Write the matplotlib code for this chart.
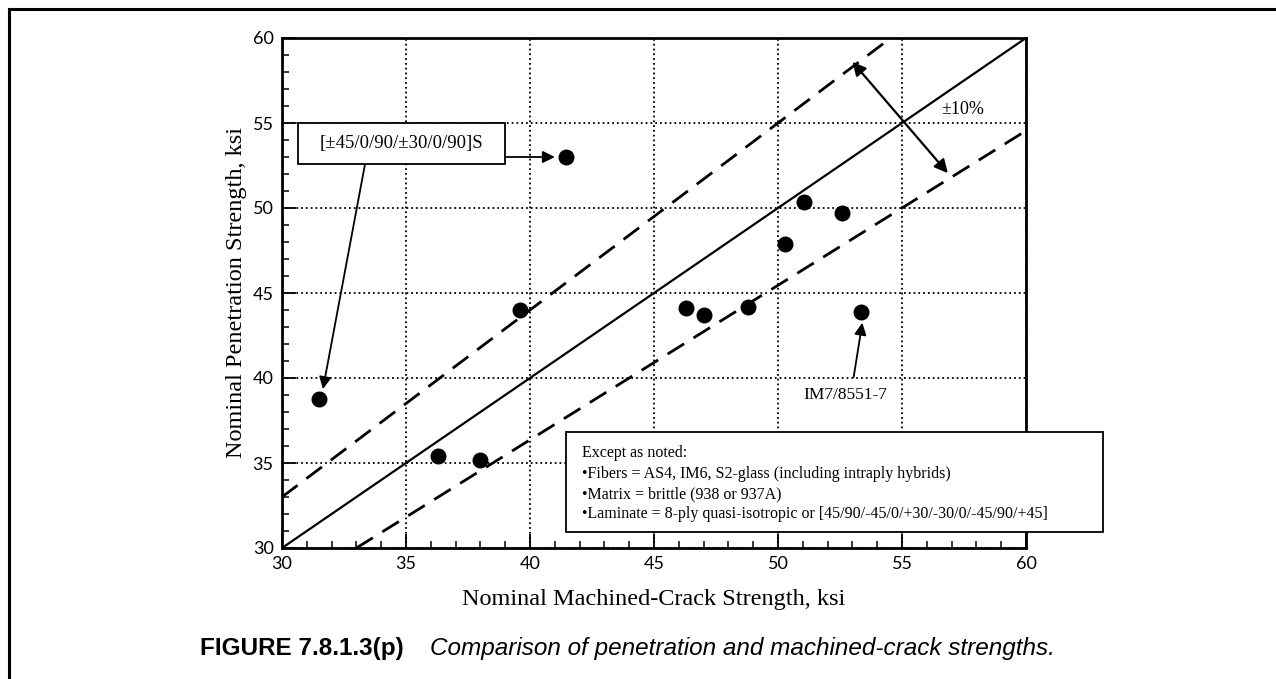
import matplotlib.pyplot as plt
from matplotlib.lines import Line2D
from matplotlib.patches import Rectangle

import numpy as np

# Данные
machined = [31.5, 41.45, 39.6, 36.3, 38.0, 46.3, 47.0, 48.8, 53.35, 51.05, 52.6, 50.3]
penetration = [38.75, 53.0, 44.0, 35.4, 35.2, 44.1, 43.7, 44.15, 43.9, 50.35, 49.7, 47.9]

band = 0.10
ticks = [30, 35, 40, 45, 50, 55, 60]

note_lines = ['Except as noted:',
              '\u2022Fibers = AS4, IM6, S2-glass (including intraply hybrids)',
              '\u2022Matrix = brittle (938 or 937A)',
              '\u2022Laminate = 8-ply quasi-isotropic or [45/90/-45/0/+30/-30/0/-45/90/+45]']

W, H = 1276, 679
serif = 'Liberation Serif'

fig = plt.figure(figsize=(W / 100, H / 100), dpi=100)
ax = fig.add_axes([282 / W, 1 - 548 / H, 744 / W, 510 / H])

# Линии равенства и коридор +-10%
x = np.array([30, 60])
ax.plot(x, x, color='k', lw=1.6, zorder=3)
xu = np.array([30, 60 / (1 + band)])
ax.plot(xu, xu * (1 + band), color='k', lw=2, dashes=(7, 4), zorder=3)
xl = np.array([30 * (1 + band), 60])
ax.plot(xl, xl / (1 + band), color='k', lw=2, dashes=(7, 4), zorder=3)

ax.scatter(machined, penetration, s=110, color='k', zorder=4)

ax.set_xlim(30, 60)
ax.set_ylim(30, 60)
ax.set_xticks(ticks)
ax.set_yticks(ticks)
ax.set_xticks(np.arange(30, 61, 1), minor=True)
ax.set_yticks(np.arange(30, 61, 1), minor=True)
ax.tick_params(which='major', direction='in', length=10, width=1.3,
               top=False, right=False, labelsize=13, pad=6)
ax.tick_params(which='minor', direction='in', length=5, width=1.1,
               top=False, right=False)
for lab in ax.get_xticklabels() + ax.get_yticklabels():
    lab.set_fontfamily('Lato')
ax.grid(True, which='major', linestyle=':', color='k', lw=1.3)
for s in ax.spines.values():
    s.set_linewidth(2)

ax.set_xlabel('Nominal Machined-Crack Strength, ksi', fontsize=17.5,
              family=serif, labelpad=12)
ax.set_ylabel('Nominal Penetration Strength, ksi', fontsize=17.5,
              family=serif, labelpad=4)

# Стрелка коридора
ax.annotate('', xy=(53.0, 58.6), xytext=(56.85, 52.05),
            arrowprops=dict(arrowstyle='<|-|>', color='k', lw=1.6,
                            mutation_scale=20, shrinkA=0, shrinkB=0))
ax.text(56.6, 55.8, '\u00b110%', fontsize=13, family=serif, va='center')

# Подпись для укладки
ax.add_patch(Rectangle((30.65, 52.6), 8.35, 2.4, facecolor='white',
                       edgecolor='k', lw=1.3, zorder=5))
ax.text(34.8, 53.8, '[\u00b145/0/90/\u00b130/0/90]S', fontsize=13.5,
        family=serif, ha='center', va='center', zorder=6)
ax.annotate('', xy=(41.0, 53.0), xytext=(39.0, 53.0),
            arrowprops=dict(arrowstyle='-|>', color='k', lw=1.3,
                            mutation_scale=18, shrinkA=0, shrinkB=0))
ax.annotate('', xy=(31.65, 39.35), xytext=(33.35, 52.6),
            arrowprops=dict(arrowstyle='-|>', color='k', lw=1.3,
                            mutation_scale=18, shrinkA=0, shrinkB=0))

ax.text(52.7, 39.0, 'IM7/8551-7', fontsize=12.5, family=serif,
        ha='center', va='center')
ax.annotate('', xy=(53.4, 43.25), xytext=(53.05, 40.05),
            arrowprops=dict(arrowstyle='-|>', color='k', lw=1.3,
                            mutation_scale=18, shrinkA=0, shrinkB=0))

# Примечание (выходит за правую границу осей)
fig.patches.append(Rectangle((566 / W, 1 - 532 / H), 537 / W, 100 / H,
                             transform=fig.transFigure, facecolor='white',
                             edgecolor='k', lw=1.3, zorder=10))
for i, line in enumerate(note_lines):
    fig.text(582 / W, 1 - (453 + 20.5 * i) / H, line, fontsize=11.5,
             family=serif, va='center', zorder=11)

# Рамка и подпись рисунка
fig.add_artist(Line2D([9 / W, 1], [1 - 9 / H, 1 - 9 / H], color='k', lw=2.2))
fig.add_artist(Line2D([9 / W, 9 / W], [0, 1 - 9 / H], color='k', lw=2.2))
fig.text(200 / W, 1 - 649 / H, 'FIGURE 7.8.1.3(p)', fontsize=17.5,
         family='Liberation Sans', weight='bold', va='center')
fig.text(430 / W, 1 - 649 / H, 'Comparison of penetration and machined-crack strengths.',
         fontsize=17.5, family='Liberation Sans', style='italic', va='center')

fig.savefig('out.png', dpi=100)
